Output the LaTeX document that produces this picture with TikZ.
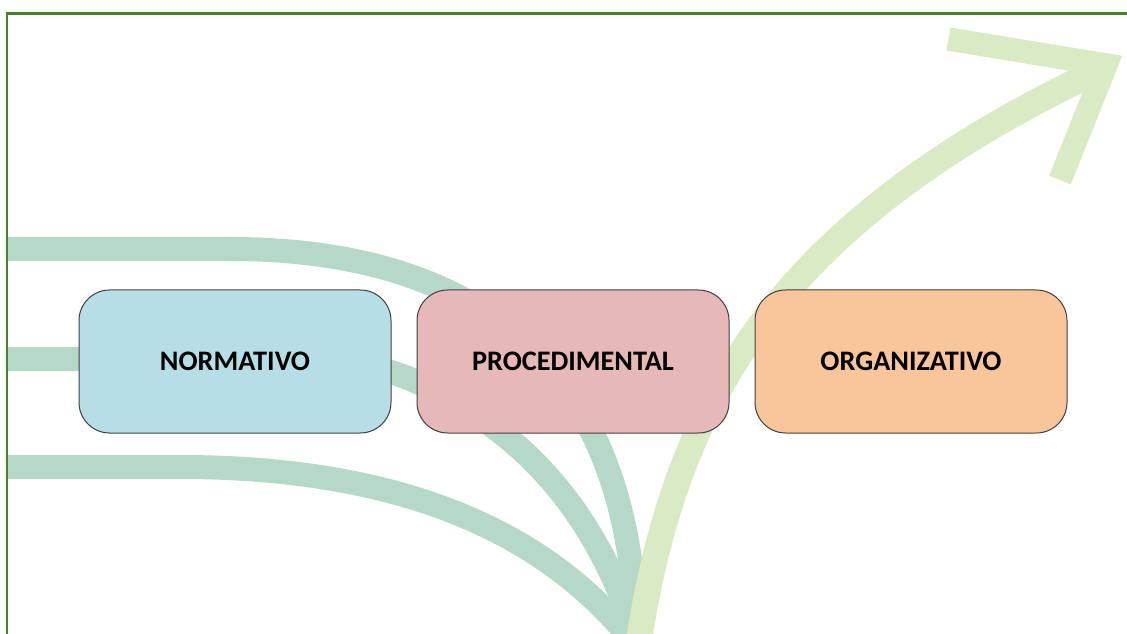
\documentclass[tikz,border=0pt]{standalone}
\usepackage{fontspec}
\setmainfont{Carlito}
\definecolor{bandteal}{HTML}{B6D9C7}
\definecolor{risegreen}{HTML}{D9EAC4}
\definecolor{framegreen}{HTML}{45842A}
\definecolor{boxline}{HTML}{404040}
\definecolor{boxblue}{HTML}{B7DDE6}
\definecolor{boxpink}{HTML}{E6B8B7}
\definecolor{boxorange}{HTML}{F9C59B}
\begin{document}
\begin{tikzpicture}[x=0.75pt,y=-0.75pt,
  band/.style={draw=bandteal, line width=18pt, line cap=butt},
  rise/.style={draw=risegreen, line width=19.5pt, line cap=butt},
  chevron/.style={draw=risegreen, line width=17.5pt, line join=miter, line cap=butt},
  frameline/.style={draw=framegreen, line width=1.7pt},
  stagebox/.style={draw=boxline, line width=0.75pt, rounded corners=23pt,
    minimum width=234pt, minimum height=107.25pt, inner sep=0pt,
    font=\bfseries\fontsize{21.2}{25}\selectfont, text=black}]
\useasboundingbox (0,0) rectangle (1127,634);
\clip (0,0) rectangle (1127,634);
\fill[white] (0,0) rectangle (1127,634);
% teal bands
\draw[band] (7,249) -- (230,249) .. controls (480,249) and (640,370) .. (636,660);
\draw[band] (7,359) -- (250,359) .. controls (340,359) and (380,365) .. (417,382)
  .. controls (490,416) and (590,480) .. (640,650);
\draw[band] (7,467) -- (180,467) .. controls (380,467) and (560,520) .. (660,680);
% rising arrow
\draw[rise] (636,660) .. controls (670,420) and (760,230) .. (1100,70);
\coordinate (armA) at (948.5,39);
\coordinate (tip) at (1106,65);
\coordinate (armB) at (1060,180);
\draw[chevron] (armA) -- (tip) -- (armB);
% frame
\draw[frameline] (7,700) -- (7,13.5) -- (1140,13.5);
% boxes
\node[stagebox, fill=boxblue] (normativo) at (235,361.5) {NORMATIVO};
\node[stagebox, fill=boxpink] (procedimental) at (573,361.5) {PROCEDIMENTAL};
\node[stagebox, fill=boxorange] (organizativo) at (911,361.5) {ORGANIZATIVO};
\end{tikzpicture}
\end{document}
